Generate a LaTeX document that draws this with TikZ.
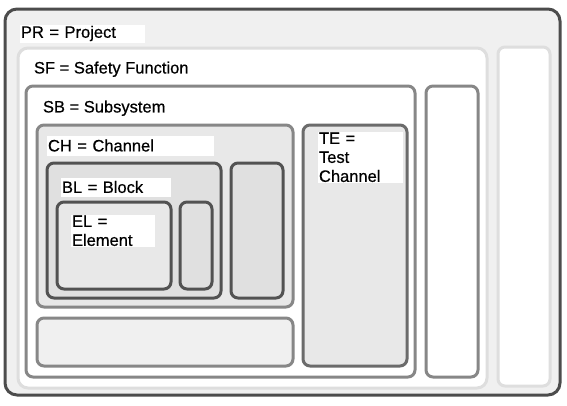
\documentclass[tikz,border=0pt]{standalone}
\usepackage{fontspec}
\setmainfont[FakeBold=0.8]{Liberation Sans}
\usepackage{tikz}

\begin{document}
\begin{tikzpicture}[x=1pt, y=-1pt, line width=3pt, rounded corners=7pt,
    darkbox/.style={draw=black!68, fill=black!12},
    midbox/.style={draw=black!47, fill=black!9},
    lightbox/.style={draw=black!13, fill=white},
    tag/.style={fill=white, anchor=north west, sharp corners, inner xsep=1.5pt,
      inner ysep=0pt, align=left, font=\fontsize{16.5}{19}\selectfont\addfontfeature{FakeBold=0.6}}]
  \useasboundingbox (0,0) rectangle (567,405);
  \path[draw=black!70, fill=black!6, rounded corners=12pt] (5,9) rectangle (560,395);
  \path[lightbox, rounded corners=10pt] (18,48) rectangle (487,388);
  \path[lightbox] (498,47) rectangle (550,386);
  \path[midbox, fill=white] (26,86) rectangle (415,377);
  \path[midbox, fill=white] (426,86) rectangle (478,377);
  \path[midbox] (37,125) rectangle (293,307);
  \path[midbox, fill=black!6] (37,318) rectangle (293,366);
  \path[darkbox, draw=black!58, fill=black!9] (303,125) rectangle (407,366);
  \path[darkbox] (47,163) rectangle (221,298);
  \path[darkbox] (231,163) rectangle (283,298);
  \path[darkbox, fill=black!9] (57,202) rectangle (171,289);
  \path[darkbox] (180,202) rectangle (212,289);
  \node[tag, text width=122pt, minimum height=18pt] (pr) at (18,23) {PR = Project};
  \node[tag, fill=none] (sf) at (31,60) {SF = Safety Function};
  \node[tag, fill=none] (sb) at (40,99) {SB = Subsystem};
  \node[tag, text width=164pt, minimum height=20pt] (ch) at (45,134) {CH = Channel};
  \node[tag, text width=107pt, minimum height=19pt] (bl) at (59,176) {BL = Block};
  \node[tag, text width=81pt, inner ysep=1pt] (el) at (69,213) {EL =\\Element};
  \node[tag, text width=82pt, inner ysep=1pt] (te) at (316,130) {TE =\\Test\\Channel};
\end{tikzpicture}
\end{document}
